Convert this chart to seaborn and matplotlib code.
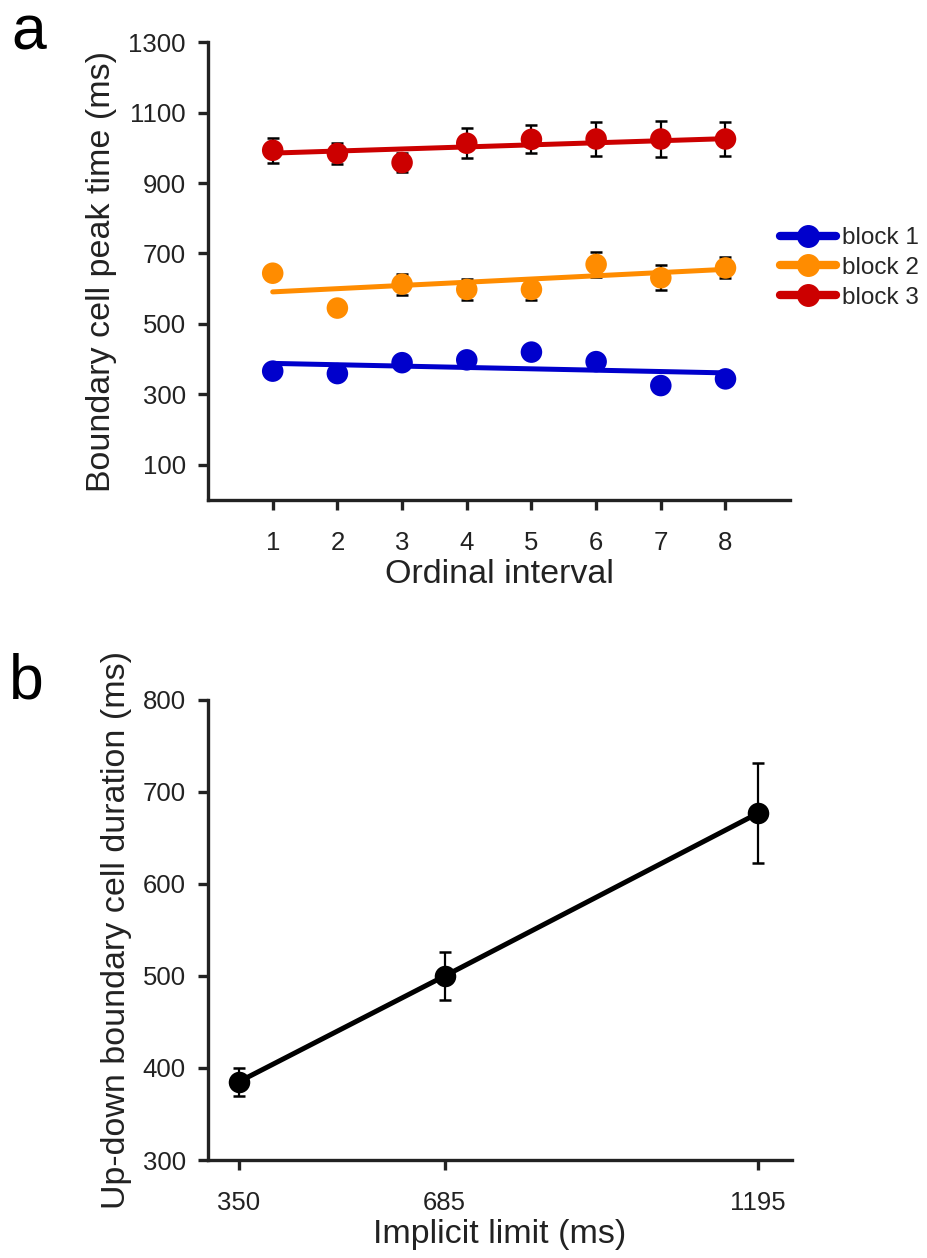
import numpy as np
import pandas as pd
import matplotlib
matplotlib.use("Agg")
import matplotlib.pyplot as plt
from matplotlib.lines import Line2D
import seaborn as sns

# ---- panel a: boundary cell peak time per ordinal interval ----
intervals = [1, 2, 3, 4, 5, 6, 7, 8]
block_names = ["block 1", "block 2", "block 3"]
block1_mean = [366, 359, 390, 398, 420, 393, 325, 344]
block1_sem = [14, 14, 15, 15, 14, 15, 14, 14]
block2_mean = [644, 545, 613, 598, 598, 669, 631, 659]
block2_sem = [12, 12, 30, 29, 29, 35, 35, 30]
block3_mean = [993, 984, 958, 1013, 1024, 1025, 1025, 1025]
block3_sem = [36, 30, 27, 43, 40, 49, 50, 49]
# linear fit end points (at interval 1 and 8)
fit_start = [388, 591, 985]
fit_end = [361, 655, 1026]
block_colors = ["#0000CC", "#FF8C00", "#CC0000"]

# ---- panel b: up-down boundary cell duration vs implicit limit ----
limits = [350, 685, 1195]
duration_mean = [385, 500, 677]
duration_sem = [15, 26, 54]

sns.set_theme(style="ticks")
plt.rcParams["font.family"] = ["Liberation Sans", "DejaVu Sans"]
ink = "#222222"

fig = plt.figure(figsize=(9.27, 12.58), dpi=100)
ax_a = fig.add_axes([0.2244, 0.6025, 0.628, 0.364])
ax_b = fig.add_axes([0.2244, 0.0779, 0.630, 0.3657])

means = [block1_mean, block2_mean, block3_mean]
sems = [block1_sem, block2_sem, block3_sem]
pts = pd.DataFrame({
    "interval": intervals * 3,
    "block": np.repeat(block_names, len(intervals)),
    "peak": np.concatenate(means),
    "sem": np.concatenate(sems),
})
fits = pd.DataFrame({
    "interval": [intervals[0], intervals[-1]] * 3,
    "block": np.repeat(block_names, 2),
    "peak": np.ravel(np.column_stack([fit_start, fit_end])),
})
palette = dict(zip(block_names, block_colors))

for name in block_names:
    sub = pts[pts["block"] == name]
    ax_a.errorbar(sub["interval"], sub["peak"], yerr=sub["sem"], fmt="none",
                  ecolor="black", elinewidth=1.6, capsize=4, capthick=1.8, zorder=2)
sns.lineplot(data=fits, x="interval", y="peak", hue="block", palette=palette,
             linewidth=3.6, legend=False, ax=ax_a, zorder=3)
sns.scatterplot(data=pts, x="interval", y="peak", hue="block", palette=palette,
                s=240, linewidth=0, legend=False, ax=ax_a, zorder=4)

ax_a.set_xlim(0, 9)
ax_a.set_ylim(0, 1300)
ax_a.set_xticks(intervals)
ax_a.set_yticks([100, 300, 500, 700, 900, 1100, 1300])
ax_a.set_xlabel("Ordinal interval", fontsize=24.5, color=ink, labelpad=3)
ax_a.set_ylabel("Boundary cell peak time (ms)", fontsize=24.5, color=ink, labelpad=8)

handles = [Line2D([0], [0], color=c, lw=6, marker="o", markersize=15.5)
           for c in block_colors]
fig.legend(handles, block_names, loc="upper left",
           bbox_to_anchor=(0.8414, 0.8195), frameon=False, fontsize=17.5,
           handlelength=2.3, handletextpad=0.24, labelspacing=0.32,
           borderpad=0, borderaxespad=0)

# panel b
dur = pd.DataFrame({"limit": limits, "duration": duration_mean, "sem": duration_sem})
ax_b.errorbar(dur["limit"], dur["duration"], yerr=dur["sem"], fmt="none",
              ecolor="black", elinewidth=1.6, capsize=4, capthick=1.8, zorder=2)
sns.lineplot(data=dur, x="limit", y="duration", color="black", linewidth=3.6,
             marker="o", markersize=15.5, markeredgewidth=0, ax=ax_b, zorder=3)
ax_b.set_xlim(300, 1250)
ax_b.set_ylim(300, 800)
ax_b.set_xticks(limits)
ax_b.set_yticks([300, 400, 500, 600, 700, 800])
ax_b.set_xlabel("Implicit limit (ms)", fontsize=24.5, color=ink, labelpad=3)
ax_b.set_ylabel("Up-down boundary cell duration (ms)", fontsize=24.5, color=ink, labelpad=8)

for ax in (ax_a, ax_b):
    sns.despine(ax=ax)
    for side in ("left", "bottom"):
        ax.spines[side].set_linewidth(2.4)
        ax.spines[side].set_color(ink)
    ax.tick_params(axis="both", direction="out", length=7, width=2.4,
                   color=ink, labelsize=18.5, labelcolor=ink, pad=9)
    ax.tick_params(axis="x", pad=15)

fig.text(0.012, 0.997, "a", fontsize=45, va="top", ha="left", color="black")
fig.text(0.010, 0.481, "b", fontsize=45, va="top", ha="left", color="black")

fig.savefig("out.png", dpi=100)
